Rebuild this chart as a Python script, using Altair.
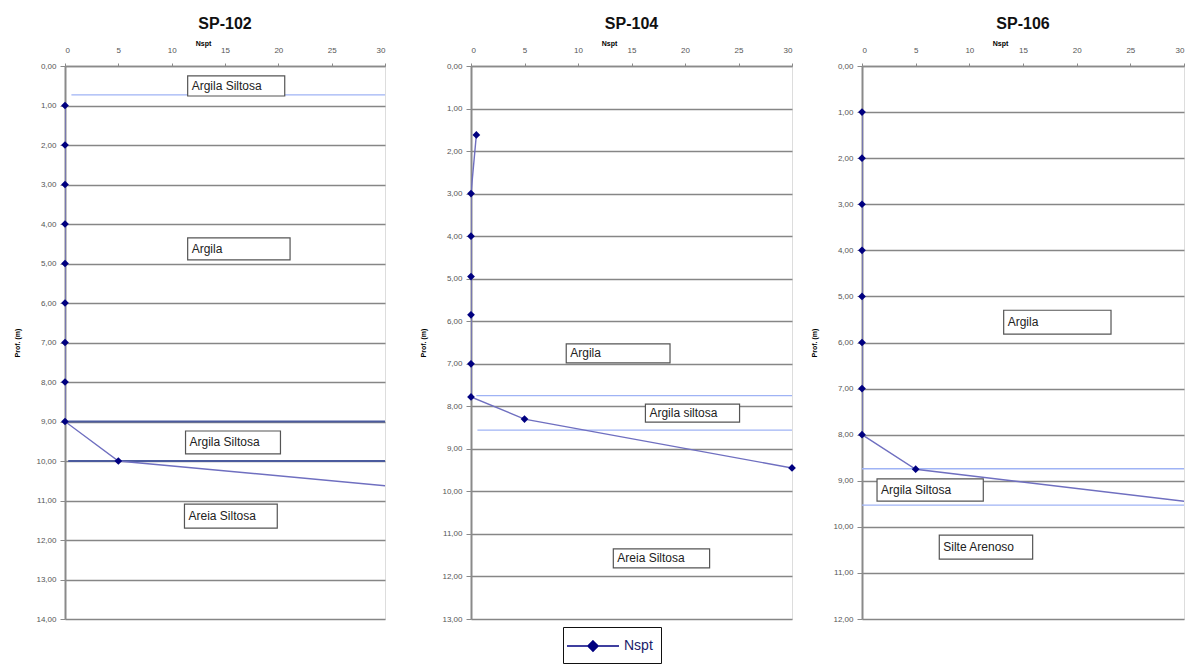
import altair as alt
import pandas as pd

FONT = "Liberation Sans"
LINE_COLOR = "#6f6fc0"
POINT_COLOR = "#000080"
LIGHT_BLUE = "#9fb3f5"
DARK_BLUE = "#4b5b9e"

# ---- SP-102 ----
sp102_nspt = [0, 0, 0, 0, 0, 0, 0, 0, 0, 5, 45]
sp102_prof = [1, 2, 3, 4, 5, 6, 7, 8, 9, 10, 11]
sp102_bound_depth = [0.73, 9.0, 10.0]
sp102_bound_from = [0.6, 0.3, 0.3]
sp102_bound_kind = ["light", "dark", "dark"]
sp102_labels = ["Argila Siltosa", "Argila", "Argila Siltosa", "Areia Siltosa"]
sp102_box_n1 = [11.5, 11.5, 11.3, 11.2]
sp102_box_n2 = [20.6, 21.1, 20.2, 19.9]
sp102_box_d1 = [0.25, 4.35, 9.24, 11.09]
sp102_box_d2 = [0.76, 4.91, 9.82, 11.70]

# ---- SP-104 ----
sp104_nspt = [0.5, 0, 0, 0, 0, 0, 0, 5, 30]
sp104_prof = [1.62, 3.0, 4.0, 4.95, 5.85, 7.0, 7.78, 8.3, 9.45]
sp104_bound_depth = [7.75, 8.56]
sp104_bound_from = [0.5, 0.6]
sp104_bound_kind = ["light", "light"]
sp104_labels = ["Argila", "Argila siltosa", "Areia Siltosa"]
sp104_box_n1 = [8.9, 16.3, 13.3]
sp104_box_n2 = [18.6, 25.1, 22.3]
sp104_box_d1 = [6.53, 7.95, 11.35]
sp104_box_d2 = [6.98, 8.37, 11.80]

# ---- SP-106 ----
sp106_nspt = [0, 0, 0, 0, 0, 0, 0, 0, 5, 50]
sp106_prof = [1, 2, 3, 4, 5, 6, 7, 8, 8.75, 10.0]
sp106_bound_depth = [8.74, 9.53]
sp106_bound_from = [0.0, 0.0]
sp106_bound_kind = ["light", "light"]
sp106_labels = ["Argila", "Argila Siltosa", "Silte Arenoso"]
sp106_box_n1 = [13.2, 1.4, 7.2]
sp106_box_n2 = [23.2, 11.3, 15.9]
sp106_box_d1 = [5.30, 8.96, 10.18]
sp106_box_d2 = [5.82, 9.44, 10.70]

x_ticks = [0, 5, 10, 15, 20, 25, 30]


def make_panel(title, nspt, prof, ymax, bdepth, bfrom, bkind, labels,
               n1, n2, d1, d2, width, height=553):
    xs = alt.Scale(domain=[0, 30], nice=False, zero=False)
    ys = alt.Scale(domain=[0, ymax], nice=False, reverse=True, zero=False)
    xaxis = alt.Axis(orient="top", values=x_ticks, grid=False,
                     title="Nspt", titleFontSize=7, titleFontWeight="bold",
                     titleX=138, titleY=-23, titleBaseline="middle",
                     titleAlign="center", titleFont=FONT,
                     labelFont=FONT, labelFontSize=8, labelColor="#555555",
                     labelPadding=9, tickSize=3, tickColor="#8a8a8a",
                     domainColor="#8a8a8a", domainWidth=1.5)
    yaxis = alt.Axis(values=list(range(ymax + 1)),
                     labelExpr="replace(format(datum.value, '.2f'), '.', ',')",
                     grid=True, gridColor="#868686", gridWidth=1.7,
                     title="Prof. (m)", titleFontSize=7, titleFontWeight="bold",
                     titleFont=FONT, titlePadding=15,
                     labelFont=FONT, labelFontSize=8, labelColor="#555555",
                     labelPadding=4, tickSize=5, tickColor="#8a8a8a",
                     domainColor="#8a8a8a", domainWidth=2)
    X = lambda f: alt.X(f, type="quantitative", scale=xs, axis=xaxis)
    Y = lambda f: alt.Y(f, type="quantitative", scale=ys, axis=yaxis)

    pts = pd.DataFrame({"nspt": nspt, "prof": prof,
                        "idx": list(range(len(nspt))),
                        "serie": ["Nspt"] * len(nspt)})
    bnd = pd.DataFrame({"depth": bdepth, "n_from": bfrom,
                        "n_to": [30] * len(bdepth), "kind": bkind})
    box = pd.DataFrame({"label": labels, "n1": n1, "n2": n2, "d1": d1, "d2": d2})
    box["dm"] = (box["d1"] + box["d2"]) / 2

    layers = []
    for kind, col, sw in [("light", LIGHT_BLUE, 1.3), ("dark", DARK_BLUE, 2.2)]:
        sub = bnd[bnd["kind"] == kind]
        if len(sub):
            layers.append(alt.Chart(sub).mark_rule(color=col, strokeWidth=sw).encode(
                x=X("n_from"), x2="n_to", y=Y("depth")))
    layers.append(alt.Chart(box).mark_rect(fill="white", stroke="#555555",
                                           strokeWidth=1.2).encode(
        x=X("n1"), x2="n2", y=Y("d1"), y2="d2"))
    layers.append(alt.Chart(box).mark_text(align="left", baseline="middle", dx=4,
                                           font=FONT, fontSize=12,
                                           color="#222222").encode(
        x=X("n1"), y=Y("dm"), text="label:N"))
    layers.append(alt.Chart(pts).mark_line(color=LINE_COLOR, strokeWidth=1.4,
                                           clip=True).encode(
        x=X("nspt"), y=Y("prof"), order="idx:Q"))
    layers.append(alt.Chart(pts).transform_filter("datum.nspt <= 30").mark_point(
        shape="diamond", filled=True, size=60, opacity=1).encode(
        x=X("nspt"), y=Y("prof"),
        color=alt.Color("serie:N", scale=alt.Scale(domain=["Nspt"],
                                                   range=[POINT_COLOR]),
                        legend=alt.Legend(
                            title=None, orient="none", legendX=498,
                            legendY=561,
                            symbolType="M-2.6,0L2.6,0M0,-0.5L0.5,0L0,0.5L-0.5,0Z",
                            symbolSize=400, symbolStrokeColor=POINT_COLOR,
                            symbolFillColor=POINT_COLOR, symbolStrokeWidth=1.6,
                            symbolOffset=11, labelOffset=20,
                            labelFont=FONT, labelFontSize=14,
                            labelColor="#1a1a6a",
                            strokeColor="#111111", padding=8,
                            fillColor="white"))))
    return alt.layer(*layers).properties(
        width=width, height=height,
        title=alt.TitleParams(title, fontSize=16, fontWeight="bold", font=FONT,
                              color="#111111", anchor="middle", frame="group",
                              offset=7),
    )


p1 = make_panel("SP-102", sp102_nspt, sp102_prof, 14, sp102_bound_depth,
                sp102_bound_from, sp102_bound_kind, sp102_labels,
                sp102_box_n1, sp102_box_n2, sp102_box_d1, sp102_box_d2, 320)
p2 = make_panel("SP-104", sp104_nspt, sp104_prof, 13, sp104_bound_depth,
                sp104_bound_from, sp104_bound_kind, sp104_labels,
                sp104_box_n1, sp104_box_n2, sp104_box_d1, sp104_box_d2, 321)
p3 = make_panel("SP-106", sp106_nspt, sp106_prof, 12, sp106_bound_depth,
                sp106_bound_from, sp106_bound_kind, sp106_labels,
                sp106_box_n1, sp106_box_n2, sp106_box_d1, sp106_box_d2, 322)

right = alt.hconcat(p2, p3, spacing=13).resolve_scale(
    x="independent", y="independent", color="shared")
chart = alt.hconcat(p1, right, spacing=32).resolve_scale(
    x="independent", y="independent", color="shared"
).properties(
    padding={"left": 5, "top": 7, "right": 0, "bottom": 0}
).configure_view(
    stroke="#c8c8c8", strokeWidth=1
).configure(background="white")

chart.save("out.html", embed_options={"renderer": "svg", "actions": False})
